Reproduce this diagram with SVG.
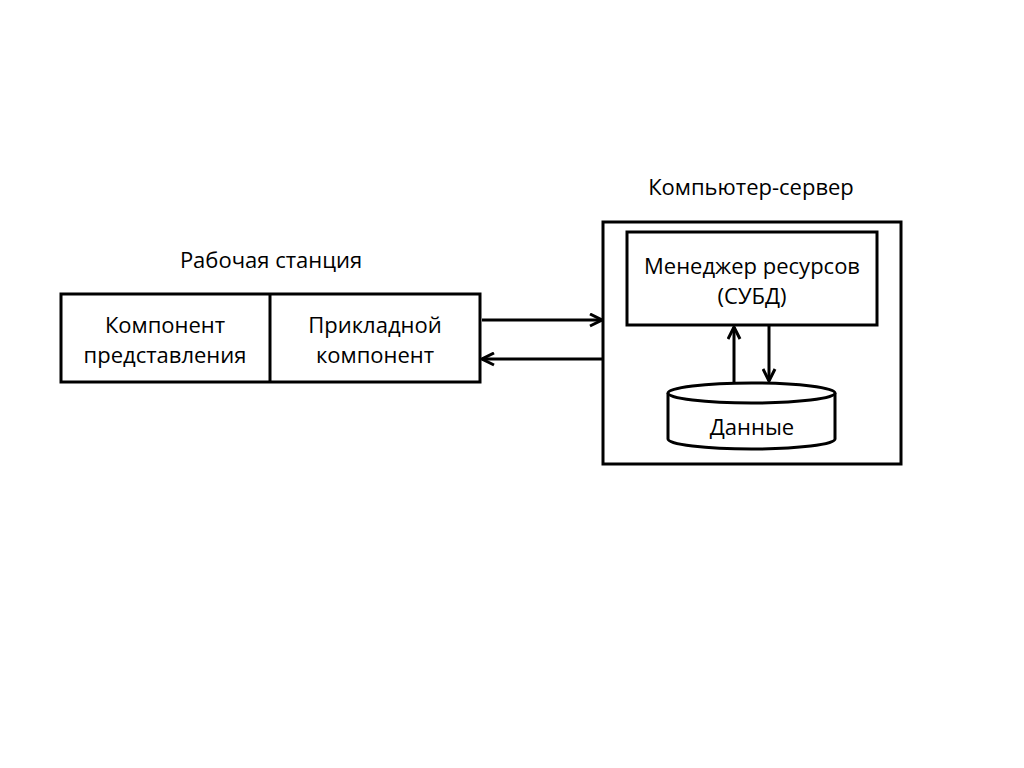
<svg xmlns="http://www.w3.org/2000/svg" width="1024" height="768" viewBox="0 0 1024 768">
<style>
.b{fill:#fff;stroke:#000;stroke-width:3}
.t{font-family:"Open Sans","Liberation Sans",sans-serif;font-size:22px;fill:#000;text-anchor:middle}
.c{stroke:#000;stroke-width:3;fill:none}
</style>
<defs>
<marker id="a" viewBox="0 0 10 10" refX="9" refY="5" markerWidth="5" markerHeight="5" orient="auto" markerUnits="strokeWidth">
<path d="M1,1 L9,5 L1,9" fill="none" stroke="#000" stroke-width="2"/>
</marker>
</defs>
<rect width="1024" height="768" fill="#fff"/>
<text class="t" x="271" y="268">Рабочая станция</text>
<text class="t" x="751" y="195">Компьютер-сервер</text>
<g id="workstation">
<rect class="b" x="61" y="294" width="419" height="88"/>
<line class="c" x1="270" y1="294" x2="270" y2="382"/>
</g>
<g id="presentation">
<text class="t" x="165" y="333">Компонент</text>
<text class="t" x="165" y="363">представления</text>
</g>
<g id="application">
<text class="t" x="375" y="333">Прикладной</text>
<text class="t" x="375" y="363">компонент</text>
</g>
<g id="server">
<rect class="b" x="603" y="222" width="298" height="242"/>
</g>
<g id="dbms">
<rect class="b" x="627" y="232" width="250" height="93"/>
<text class="t" x="752" y="274">Менеджер ресурсов</text>
<text class="t" x="752" y="304">(СУБД)</text>
</g>
<g id="data">
<path class="b" d="M668,393 L668,439 A83.5,10 0 0 0 835,439 L835,393"/>
<ellipse class="b" cx="751.5" cy="393" rx="83.5" ry="10"/>
<text class="t" x="752" y="435">Данные</text>
</g>
<g id="connectors">
<line class="c" x1="482" y1="320" x2="602" y2="320" marker-end="url(#a)"/>
<line class="c" x1="602" y1="359" x2="482" y2="359" marker-end="url(#a)"/>
<line class="c" x1="734" y1="383" x2="734" y2="327" marker-end="url(#a)"/>
<line class="c" x1="769" y1="325" x2="769" y2="381" marker-end="url(#a)"/>
</g>
</svg>
